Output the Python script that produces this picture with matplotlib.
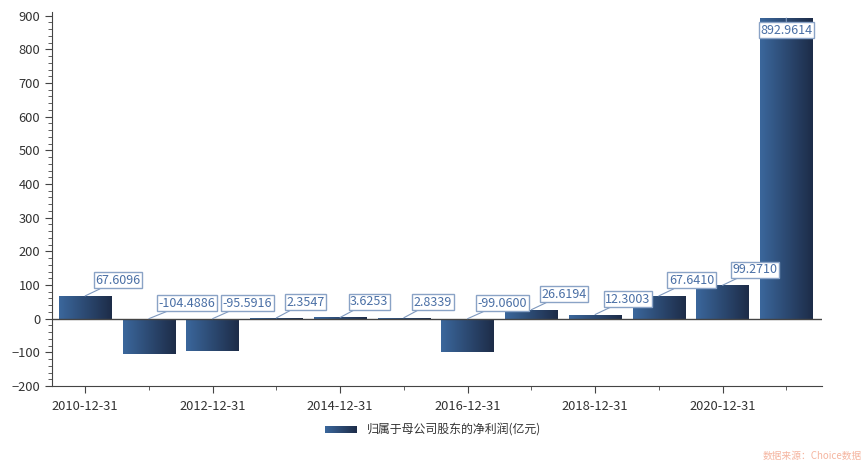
import numpy as np
import matplotlib.pyplot as plt
from matplotlib.colors import LinearSegmentedColormap
from matplotlib.ticker import MultipleLocator

plt.rcParams['font.family'] = ['Noto Sans CJK SC', 'DejaVu Sans']

# Data
dates = ['2010-12-31', '2011-12-31', '2012-12-31', '2013-12-31', '2014-12-31', '2015-12-31',
         '2016-12-31', '2017-12-31', '2018-12-31', '2019-12-31', '2020-12-31', '2021-12-31']
profit = [67.6096, -104.4886, -95.5916, 2.3547, 3.6253, 2.8339,
          -99.0600, 26.6194, 12.3003, 67.6410, 99.2710, 892.9614]
series_name = '归属于母公司股东的净利润(亿元)'

cmap = LinearSegmentedColormap.from_list('bar', ['#3b679c', '#1d2c48'])
grad = np.linspace(0, 1, 256).reshape(1, -1)

W, H = 865, 462
fig = plt.figure(figsize=(W / 100, H / 100), dpi=100)
ax = fig.add_axes([52 / W, 1 - 386 / H, 770 / W, 374 / H])

x = np.arange(len(dates))
bars = ax.bar(x, profit, width=0.82, color='none', edgecolor='none')
for b in bars:
    x0, y0 = b.get_x(), b.get_y()
    im = ax.imshow(grad, cmap=cmap, aspect='auto',
                   extent=[x0, x0 + b.get_width(), y0, y0 + b.get_height()], zorder=2)
    im.set_clip_path(b)

ax.set_xlim(-0.52, len(dates) - 0.44)
ax.set_ylim(-200, 911)
ax.axhline(0, color='#444444', lw=1, zorder=3)

# value labels
for i, v in enumerate(profit):
    top = max(v, 0)
    if i == len(profit) - 1:
        off, ha, va = (0, -12), 'center', 'center'
    else:
        off, ha, va = (10, 9), 'left', 'bottom'
    ax.annotate(f'{v:.4f}', xy=(i, top), xytext=off, textcoords='offset pixels',
                ha=ha, va=va, fontsize=9, color='#4a6fa5',
                bbox=dict(boxstyle='square,pad=0.12', fc='white', ec='#8aa3c6', lw=1),
                arrowprops=dict(arrowstyle='-', color='#7f98bd', lw=0.8,
                                shrinkA=0, shrinkB=0), zorder=5)

# axes styling
for s in ['top', 'right']:
    ax.spines[s].set_visible(False)
for s in ['left', 'bottom']:
    ax.spines[s].set_color('#444444')
ax.yaxis.set_major_locator(MultipleLocator(100))
ax.yaxis.set_minor_locator(MultipleLocator(20))
ax.set_xticks(x[::2])
ax.set_xticklabels(dates[::2])
ax.set_xticks(x[1::2], minor=True)
ax.tick_params(axis='both', which='major', length=5, color='#444444',
               labelsize=9.3, labelcolor='#333333')
ax.tick_params(axis='both', which='minor', length=3, color='#444444')
ax.tick_params(axis='x', pad=5)

# legend
lax = fig.add_axes([325 / W, 1 - 433 / H, 32 / W, 7 / H])
lax.imshow(grad, cmap=cmap, aspect='auto')
lax.axis('off')
fig.text(367 / W, 1 - 430 / H, series_name, fontsize=8.6, color='#333333',
         ha='left', va='center')

fig.text(862 / W, 1 - 456 / H, '数据来源：Choice数据', fontsize=7, color='#f5b5a0',
         ha='right', va='center')

fig.savefig('out.png', dpi=100)
